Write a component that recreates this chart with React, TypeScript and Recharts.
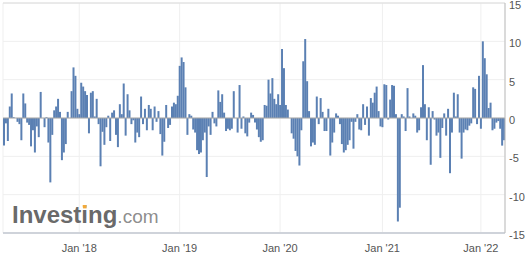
import React from "react";
import {
  BarChart,
  Bar,
  XAxis,
  YAxis,
  CartesianGrid,
  ReferenceLine,
} from "recharts";

const y2017 = [
  -3.6, -0.7, -3.0, 1.5, 3.2, 0.1, 0, -0.5, -0.8, -2.9, 3.2, 1.9, -0.6, -0.9,
  -3.7, -1.6, -4.5, -1.1, -2.5, 3.4, 0, -1.2, 0.1, -3.2, -8.4, -2.2, 1.0, 1.5,
  2.5, 0.8, -5.5, -4.5, -3.4, 0.8, 0, 3.5, 6.6, 5.5, 1.2,
];
const y2018 = [
  0.5, 4.6, 4.1, 3.5, 3.0, -2.0, 3.3, 3.5, 0.2, 2.5, -0.8, -6.3, -1.8, -3.5,
  -1.2, 0.3, -3.0, 0.7, 1.0, -2.2, -3.8, 1.8, 0.5, 4.5, -2.3, 3.1, 1.0, -0.8,
  -0.3, -3.2, -1.9, -2.5, 2.8, -0.8, 1.2, -1.6, 1.7, 1.2, -1.6, 1.5, -0.5, 0.9,
  -2.1, -4.9, -3.1, 1.7, -1.3, -0.9, 1.5, 2.0, 1.8, 2.9,
];
const y2019 = [
  6.8, 7.9, 7.3, 4.0, -2.2, 0.5, 0.3, -1.5, -1.9, -4.2, -4.7, -4.5, -2.9, -1.9,
  -7.7, -1.1, -2.2, 0.8, -0.7, -1.1, 3.6, 2.1, 3.1, 0.7, -1.7, -1.4, -1.6, -1.4,
  3.5, 0, -1.9, 4.3, -1.4, 0.2, -2.0, -2.4, -0.6, 0.7, 0.4, -0.6, -1.5, -2.5,
  -3.1, -2.9, 1.7, 1.6, 5.0, 3.2, 5.2, 2.5, 1.8, 3.1,
];
const y2020 = [
  1.7, 9.0, 6.5, 1.7, 1.1, 0, -2.0, -2.7, -4.3, -5.0, -6.2, -1.6, 7.4, 10.3,
  4.8, 0.9, -3.7, -3.2, -3.5, 2.8, -0.8, 2.6, 0.8, -1.7, -1.7, 1.2, -4.9, -3.2,
  -1.9, 0.6, 0.3, -0.8, -3.4, -4.5, -4.2, -3.5, -2.9, -0.5, -4.0, -0.5, 0.5,
  -1.5, -1.6, 1.8, -0.9, 1.5, -2.3, 2.6, 2.0, 3.3, 4.1, 0.9, -1.1,
];
const y2021 = [
  -1.2, 4.4, 4.3, -0.2, 2.4, 4.3, 4.2, 0.5, -13.5, -11.7, 0.5, 0.2, -1.7, 3.9,
  0.2, 0, 0.6, 0.3, -1.9, -1.6, 1.4, 6.9, 1.8, -2.9, 1.4, -6.1, 0.9, -0.2, -2.3,
  -1.9, -5.2, -1.3, 0.6, -2.3, 1.2, -7.2, -1.9, 3.3, 0.2, 3.1, -1.9, -5.3, -1.9,
  -1.5, -1.6, -1.0, -0.7, 4.0, 3.8, -0.8, 5.5,
];
const y2022 = [
  -1.4, 10.0, 7.8, 5.7, 1.3, 2.0, -1.6, -1.4, -0.6, -0.4, -1.4, -3.6, -2.9,
];

const yearLabels = ["Jan '18", "Jan '19", "Jan '20", "Jan '21", "Jan '22"];
const yTicks = [-15, -10, -5, 0, 5, 10, 15];

const segments = [y2017, y2018, y2019, y2020, y2021, y2022];
const values = segments.flat();
const data = values.map((v, i) => ({ i, v }));
const tickIdx: number[] = [];
{
  let acc = 0;
  for (let s = 0; s < segments.length - 1; s++) {
    acc += segments[s].length;
    tickIdx.push(acc);
  }
}

const FONT = "'Liberation Sans', Arial, sans-serif";

const RightTick = (props: any) => {
  const { x, y, payload } = props;
  return (
    <text
      x={x}
      y={y + 2}
      dy="0.355em"
      textAnchor="start"
      fontSize={11}
      fill="#555"
      fontFamily={FONT}
    >
      {payload.value}
    </text>
  );
};

export default function App() {
  return (
    <div
      style={{
        position: "absolute",
        left: 0,
        top: 0,
        width: 525,
        height: 257,
        background: "#fff",
        overflow: "hidden",
      }}
    >
      <BarChart
        width={525}
        height={257}
        data={data}
        margin={{ top: 3, right: 0, left: 3, bottom: 0 }}
        barCategoryGap={0}
      >
        <CartesianGrid stroke="#efefef" yAxisId="r" />
        <XAxis
          dataKey="i"
          type="category"
          ticks={tickIdx}
          interval={0}
          tickFormatter={(v: number) => yearLabels[tickIdx.indexOf(v)] ?? ""}
          tickLine={false}
          tickSize={0}
          tickMargin={11}
          height={24}
          axisLine={{ stroke: "#cfd3da", strokeWidth: 2 }}
          tick={{ fontSize: 11, fill: "#555", fontFamily: FONT }}
        />
        <YAxis
          yAxisId="l"
          orientation="left"
          width={0}
          domain={[-15, 15]}
          ticks={yTicks}
          tick={false}
          tickLine={false}
          axisLine={{ stroke: "#b5b5b5" }}
        />
        <YAxis
          yAxisId="r"
          orientation="right"
          width={20}
          domain={[-15, 15]}
          ticks={yTicks}
          interval={0}
          tickLine={false}
          tickSize={0}
          tickMargin={4}
          axisLine={{ stroke: "#bdbdbd" }}
          tick={<RightTick />}
        />
        <ReferenceLine yAxisId="r" y={15} stroke="#dcdcdc" />
        <Bar
          yAxisId="r"
          dataKey="v"
          fill="#5b80b3"
          isAnimationActive={false}
        />
        <ReferenceLine yAxisId="r" y={0} stroke="#a8a8a8" />
      </BarChart>
      <svg
        width={525}
        height={257}
        style={{ position: "absolute", left: 0, top: 0, pointerEvents: "none" }}
      >
        <text
          x={12}
          y={223}
          fontFamily={FONT}
          fontWeight="bold"
          fontSize={24}
          fill="#555"
          fillOpacity={0.9}
        >
          Investing
          <tspan fontWeight="normal" fontSize={19} fill="#808080">
            .com
          </tspan>
        </text>
        <rect x={83} y={205} width={3.6} height={3.4} fill="#f2a93b" />
      </svg>
    </div>
  );
}
